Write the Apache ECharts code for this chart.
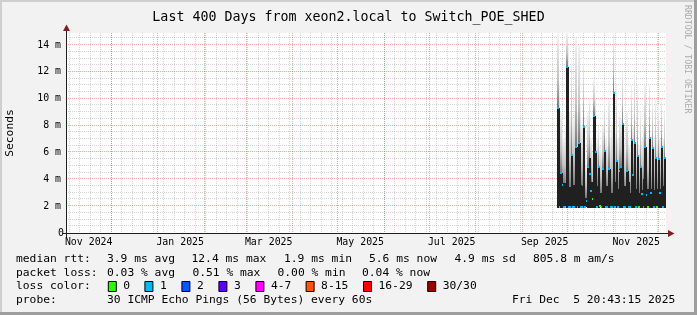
<!DOCTYPE html>
<html><head><meta charset="utf-8">
<script src="https://cdn.jsdelivr.net/npm/echarts@6/dist/echarts.min.js"></script>
<style>html,body{margin:0;padding:0;background:#f2f2f2}#c{width:697px;height:315px}</style>
</head><body><div id="c"></div>
<script>
// ---------- data ----------
const titleText = 'Last 400 Days from xeon2.local to Switch_POE_SHED';
const endLabel = 'Fri Dec  5 20:43:15 2025';
const rangeDays = 400;
const yTicks = [0, 2, 4, 6, 8, 10, 12, 14];
const yMax = 14.9;
const xLabelMonths = ['2024-11', '2025-01', '2025-03', '2025-05', '2025-07', '2025-09', '2025-11'];
const firstSample = '2025-09-25';
// per-day smoke columns (ms)
const lowMs = [1.85,1.85,1.85,1.85,1.85,1.85,1.85,1.85,1.85,1.85, 1.85,1.85,1.85,1.85,1.85,1.85,1.85,1.85,1.9,1.9, 1.85,1.85,1.85,1.9,1.85,1.85,1.85,1.85,1.9,1.9, 1.85,1.85,1.85,1.85,1.85,1.85,1.85,1.85,1.85,1.85, 1.85,1.85,1.85,1.85,1.85,1.85,1.85,1.85,1.85,1.85, 1.85,1.85,1.85,1.85,1.85,1.85,1.85,1.85,1.85,1.85, 1.85,1.85,1.85,1.85,1.85,1.85,1.85,1.85,1.85,1.85, 1.85,1.85];
const darkTop = [9.3,3.2,4.5,3.7,3.7,3.2,12.4,3.4,3.4,5.8, 3.6,3.6,6.4,3.6,6.7,3.6,3.5,7.9,2.6,2.6, 4.9,5.6,3.8,2.8,8.7,6.0,3.5,4.9,3.0,3.0, 4.8,6.1,3.5,3.2,4.8,3.0,3.0,10.4,3.8,5.4, 3.3,4.8,4.9,8.1,3.5,3.0,4.6,3.8,3.0,6.9, 4.3,6.7,3.3,5.7,3.0,4.9,3.2,4.0,6.4,3.3, 3.3,7.1,3.3,6.3,3.2,5.6,3.3,5.5,3.3,6.4, 3.5,5.6];
const smokeTop = [14.9,11,9,7.5,7,8,14.9,14,9,13, 8.5,9,14.5,9,14,9.5,8,13,5.5,5, 9,10,7,6,11.5,10,7,8,6.5,6, 8,10,7,6.5,10,7,8,14.9,8,11, 7,9,8.5,12,7,6.5,9,7,6.5,11, 8,12,7,11,6.5,9,7,8,11,7, 7,11,7,10,7,10,7,9.5,7,10, 7,9];
const medianMs = [9.3,1.9,4.5,3.6,1.9,1.9,12.4,1.9,1.9,5.8, 1.9,1.9,6.4,1.9,6.7,1.9,1.9,7.9,1.9,2.4, 4.9,4.4,3.1,2.5,8.7,6.0,1.9,4.9,2.0,1.9, 4.8,6.1,1.9,1.9,4.8,1.9,1.9,10.4,1.9,5.4, 1.9,4.6,4.9,8.1,1.9,1.9,4.6,1.9,1.9,6.9, 4.3,6.7,1.9,5.7,1.9,4.9,2.9,1.9,6.4,2.8, 1.9,7.1,3.0,6.3,1.9,5.6,1.9,5.5,3.0,6.4, 1.9,5.6];
const lossIdx = [1,0,1,1,1,0,1,1,1,1, 1,1,1,1,1,1,1,1,1,1, 1,1,1,0,1,1,1,1,0,1, 1,1,1,1,1,1,1,1,1,1, 1,1,1,1,1,1,1,1,1,1, 1,1,1,1,0,1,1,1,1,1, 0,1,1,1,1,1,0,1,1,1, 1,1];
// legend
const rttLabel = 'median rtt:';
const rttStats = ['3.9 ms avg', '12.4 ms max', '1.9 ms min', '5.6 ms now', '4.9 ms sd', '805.8 m am/s'];
const lossLabel = 'packet loss:';
const lossStats = ['0.03 % avg', '0.51 % max', '0.00 % min', '0.04 % now'];
const lossColorLabel = 'loss color:';
const lossNames = ['0', '1', '2', '3', '4-7', '8-15', '16-29', '30/30'];
const lossColors = ['#26ff00', '#00b8ff', '#0059ff', '#5e00ff', '#ff00ff', '#ff5500', '#ff0000', '#a10000'];
const probeLabel = 'probe:';
const probeText = '30 ICMP Echo Pings (56 Bytes) every 60s';
const watermark = 'RRDTOOL / TOBI OETIKER';
const yTitle = 'Seconds';
const monthNames = ['Jan','Feb','Mar','Apr','May','Jun','Jul','Aug','Sep','Oct','Nov','Dec'];

// ---------- layout / style ----------
const FONT = 'DejaVu Sans Mono';
const G = {left: 66, top: 33, width: 600, height: 200};
const rttX = [107, 191.5, 284, 369, 454.5, 533];
const lossX = [107, 192.4, 277.5, 362];
const boxX = [107.8, 144.4, 181.4, 218.4, 255.4, 305.6, 363, 427.2];
const rowY = [259.5, 273, 286.5, 300.5];
const gridMinor = 'rgba(143,143,143,0.38)';
const gridMajor = 'rgba(222,80,80,0.5)';

const DAY = 86400000;
const tEnd = Date.UTC(2025, 11, 5, 20, 43, 15);
const tStart = tEnd - rangeDays * DAY;

// grid line items: [value, orientation(0=vertical,1=horizontal), major]
const gridItems = [];
for (let v = 0.5; v < yMax; v += 0.5) if (v % 2 !== 0) gridItems.push([v, 1, 0]);
for (let t = Date.UTC(2024, 10, 3); t < tEnd; t += 7 * DAY) gridItems.push([t, 0, 0]);
for (const v of yTicks) if (v > 0) gridItems.push([v, 1, 1]);
for (let y = 2024, m = 10; Date.UTC(y, m, 1) < tEnd; m++) {
  if (m > 11) { m = 0; y++; }
  const t = Date.UTC(y, m, 1);
  if (t > tStart && t < tEnd) gridItems.push([t, 0, 1]);
}

const xLabelValues = xLabelMonths.map(s => { const [y, m] = s.split('-').map(Number); return Date.UTC(y, m - 1, 1) + 15 * DAY; });

const t0 = Date.parse(firstSample + 'T00:00:00Z');
const samples = darkTop.map((d, i) => [t0 + i * DAY, lowMs[i], d, smokeTop[i], medianMs[i], lossIdx[i]]);

function txt(x, y, s, size, extra, rot) {
  const el = {type: 'text', x: x, y: y, silent: true,
    style: Object.assign({text: s, font: size + 'px "' + FONT + '"', fill: '#000', textVerticalAlign: 'middle', textAlign: 'left'}, extra || {})};
  if (rot) el.rotation = rot;
  return el;
}

const graphics = [
  {type: 'rect', shape: {x: 0, y: 0, width: 697, height: 2}, style: {fill: '#cfcfcf'}, silent: true},
  {type: 'rect', shape: {x: 0, y: 0, width: 2, height: 315}, style: {fill: '#cfcfcf'}, silent: true},
  {type: 'rect', shape: {x: 694, y: 0, width: 3, height: 315}, style: {fill: '#9e9e9e'}, silent: true},
  {type: 'rect', shape: {x: 0, y: 312, width: 697, height: 3}, style: {fill: '#9e9e9e'}, silent: true},
  // axes
  {type: 'line', shape: {x1: G.left - 4, y1: G.top + G.height + 0.5, x2: G.left + G.width + 4, y2: G.top + G.height + 0.5}, style: {stroke: '#1f1f1f', lineWidth: 1}, silent: true, z: 50},
  {type: 'line', shape: {x1: G.left + 0.5, y1: G.top + G.height + 4, x2: G.left + 0.5, y2: G.top - 5}, style: {stroke: '#1f1f1f', lineWidth: 1}, silent: true, z: 50},
  {type: 'polygon', shape: {points: [[G.left + G.width + 2, G.top + G.height - 3], [G.left + G.width + 2, G.top + G.height + 4], [G.left + G.width + 8.5, G.top + G.height + 0.5]]}, style: {fill: '#7f1f1f'}, silent: true, z: 51},
  {type: 'polygon', shape: {points: [[G.left - 3, G.top - 2], [G.left + 4, G.top - 2], [G.left + 0.5, G.top - 8.5]]}, style: {fill: '#7f1f1f'}, silent: true, z: 51},
  txt(10.5, G.top + G.height / 2, yTitle, 11.3, {textAlign: 'center'}, Math.PI / 2),
  txt(687, 5, watermark, 8.2, {fill: '#aaaaaa'}, -Math.PI / 2),
  txt(16, rowY[0], rttLabel, 11.3),
  txt(16, rowY[1], lossLabel, 11.3),
  txt(16, rowY[2], lossColorLabel, 11.3),
  txt(16, rowY[3], probeLabel, 11.3),
  txt(107, rowY[3], probeText, 11.3),
  txt(512, rowY[3], endLabel, 11.3)
];
rttStats.forEach((s, i) => graphics.push(txt(rttX[i], rowY[0], s, 11.3)));
lossStats.forEach((s, i) => graphics.push(txt(lossX[i], rowY[1], s, 11.3)));
lossNames.forEach((s, i) => {
  graphics.push({type: 'rect', shape: {x: boxX[i] + 0.5, y: rowY[2] - 5, width: 8, height: 10}, style: {fill: lossColors[i], stroke: '#000', lineWidth: 1}, silent: true});
  graphics.push(txt(boxX[i] + 15.5, rowY[2], s, 11.3));
});

function colX(api, t) {
  const xl = Math.round(api.coord([t - DAY / 2, 0])[0]);
  const xr = Math.round(api.coord([t + DAY / 2, 0])[0]);
  return [xl, Math.max(1, xr - xl)];
}

const chart = echarts.init(document.getElementById('c'), null, {renderer: 'canvas', devicePixelRatio: 1});
chart.setOption({
  animation: false,
  backgroundColor: '#f2f2f2',
  title: {text: titleText, left: 'center', top: 6, textStyle: {fontFamily: FONT, fontSize: 13.3, fontWeight: 'normal', color: '#000'}},
  grid: {left: G.left, top: G.top, width: G.width, height: G.height, show: true, backgroundColor: '#ffffff', borderWidth: 0},
  xAxis: {type: 'value', min: tStart, max: tEnd, axisLine: {show: false}, axisTick: {show: false}, splitLine: {show: false},
    axisLabel: {customValues: xLabelValues, margin: 4, fontFamily: FONT, fontSize: 9.9, color: '#000',
      formatter: v => { const d = new Date(v); return monthNames[d.getUTCMonth()] + ' ' + d.getUTCFullYear(); }}},
  yAxis: {type: 'value', min: 0, max: yMax, interval: 2, axisLine: {show: false}, axisTick: {show: false}, splitLine: {show: false},
    axisLabel: {customValues: yTicks, margin: 2, fontFamily: FONT, fontSize: 9.9, color: '#000',
      formatter: v => v === 0 ? '0' : '{m|' + v + ' m}',
      rich: {m: {fontFamily: FONT, fontSize: 9.9, color: '#000', padding: [0, 3, 0, 0]}}}},
  graphic: graphics,
  series: [
    {type: 'custom', z: 1, silent: true, data: gridItems,
      renderItem: (params, api) => {
        const cs = params.coordSys;
        const v = api.value(0), vertical = api.value(1) === 0, major = api.value(2) === 1;
        const style = {stroke: major ? gridMajor : gridMinor, lineWidth: 1, lineDash: [1, 1], fill: null};
        if (vertical) {
          const x = Math.floor(api.coord([v, 0])[0]) + 0.5;
          return {type: 'line', shape: {x1: x, y1: cs.y, x2: x, y2: cs.y + cs.height}, style};
        }
        const y = Math.round(api.coord([tStart, v])[1]) - 0.5;
        return {type: 'line', shape: {x1: cs.x, y1: y, x2: cs.x + cs.width, y2: y}, style};
      }},
    // smoke (light part above the dark core)
    {type: 'custom', z: 2, silent: true, data: samples, encode: {x: 0, y: [1, 2, 3, 4]},
      renderItem: (params, api) => {
        const t = api.value(0);
        const [xl, w] = colX(api, t);
        const yDark = Math.round(api.coord([t, api.value(2)])[1]);
        const ySmoke = Math.round(api.coord([t, api.value(3)])[1]);
        return {type: 'rect', shape: {x: xl, y: ySmoke, width: w, height: yDark - ySmoke},
          style: {fill: {type: 'linear', x: 0, y: 0, x2: 0, y2: 1, colorStops: [{offset: 0, color: '#f3f3f3'}, {offset: 0.6, color: '#c4c4c4'}, {offset: 1, color: '#777777'}]}}};
      }},
    // dark core + median marker
    {type: 'custom', z: 3, silent: true, data: samples, encode: {x: 0, y: [1, 2, 3, 4]},
      renderItem: (params, api) => {
        const t = api.value(0);
        const [xl, w] = colX(api, t);
        const yLow = Math.round(api.coord([t, api.value(1)])[1]);
        const yDark = Math.round(api.coord([t, api.value(2)])[1]);
        const yMed = Math.round(api.coord([t, api.value(4)])[1]);
        const cx = Math.round(api.coord([t, 0])[0]);
        return {type: 'group', children: [
          {type: 'rect', shape: {x: xl, y: yDark, width: w + 1, height: yLow - yDark}, style: {fill: '#202020'}},
          {type: 'rect', shape: {x: cx - 1, y: yMed - 1, width: 2, height: 2}, style: {fill: lossColors[api.value(5)]}}
        ]};
      }}
  ]
});
</script></body></html>
